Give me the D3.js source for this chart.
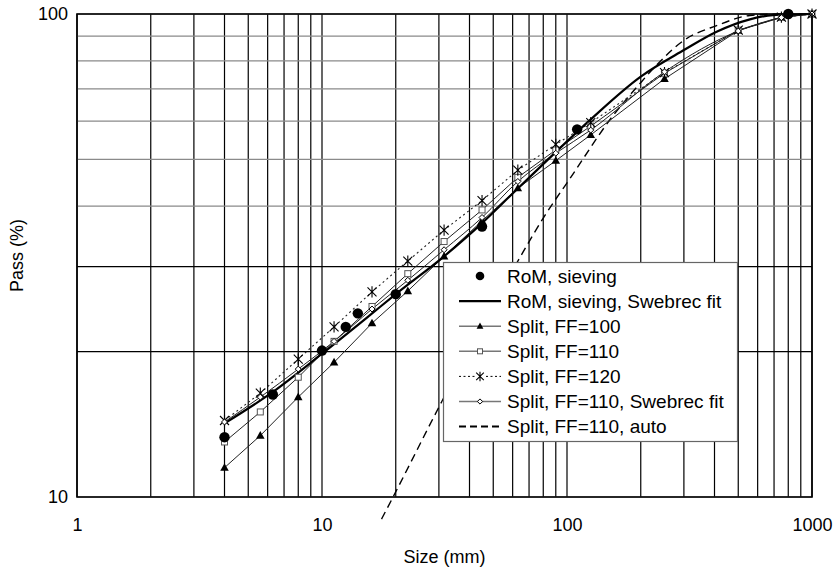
<!DOCTYPE html>
<html>
<head>
<meta charset="utf-8">
<script src="https://cdn.jsdelivr.net/npm/d3@7"></script>
<style>
  html, body { margin: 0; padding: 0; background: #fff; }
  svg { display: block; }
  text { font-family: "Liberation Sans", Arial, Helvetica, sans-serif; fill: #000; }
</style>
</head>
<body>
<svg id="chart" width="836" height="571"></svg>
<script>
// ---------------- data ----------------
const sieveSizes = [4, 5.6, 8, 11.2, 16, 22.4, 31.5, 45, 63, 90, 125, 250, 500, 750, 1000];
const splitFF100 = [11.5, 13.4, 16.1, 19.0, 22.9, 26.7, 31.5, 37.3, 43.6, 49.7, 56.2, 73.4, 92.4, 98.4, 100];
const splitFF110 = [13.0, 15.0, 17.7, 21.0, 24.8, 29.0, 33.8, 39.3, 45.9, 52.3, 58.6, 75.4, 92.6, 98.5, 100];
const splitFF120 = [14.4, 16.4, 19.3, 22.5, 26.6, 30.8, 35.7, 41.1, 47.5, 53.7, 59.6, 75.6, 92.6, 98.5, 100];
const splitFF110Fit = [14.3, 16.1, 18.4, 21.0, 24.5, 28.1, 32.5, 37.9, 45.0, 51.5, 57.5, 75.9, 92.2, 98.3, 100];

const romSizes = [4, 6.3, 10, 12.5, 14, 20, 45, 110, 800];
const romPass  = [13.3, 16.3, 20.1, 22.5, 24.0, 26.3, 36.3, 57.7, 100];

const romFitSizes = [4, 6.3, 10, 15.7, 20, 31.5, 45, 60, 78, 124, 200, 300, 408, 558, 693, 1000];
const romFitPass  = [14.2, 16.5, 19.8, 23.8, 26.3, 31.5, 36.9, 42.5, 48.3, 60.3, 74.2, 84.2, 91.9, 97.5, 99.5, 100];

const autoSizes = [17.5, 19.5, 30.8, 66.3, 80, 103, 153, 199, 232, 298, 408, 558, 750, 1000];
const autoPass  = [9.0, 10, 15.75, 32.2, 37.8, 45.7, 61.3, 71.9, 78.4, 88.0, 94.6, 99.3, 100, 100];

const xTickLabels = [1, 10, 100, 1000];
const yTickLabels = [10, 100];
const yDarkGrid = [20, 30];

const legendLabels = [
  "RoM, sieving",
  "RoM, sieving, Swebrec fit",
  "Split, FF=100",
  "Split, FF=110",
  "Split, FF=120",
  "Split, FF=110, Swebrec fit",
  "Split, FF=110, auto"
];

// ---------------- setup ----------------
const svg = d3.select("#chart");
const L = 77, R = 812, T = 14, B = 497;
const x = d3.scaleLog().domain([1, 1000]).range([L, R]);
const y = d3.scaleLog().domain([10, 100]).range([B, T]);

const zip = (xs, ys) => xs.map((v, i) => [v, ys[i]]);
const line = d3.line().x(d => x(d[0])).y(d => y(d[1]));
const smooth = d3.line().x(d => x(d[0])).y(d => y(d[1])).curve(d3.curveMonotoneX);

// ---------------- grid ----------------
const grid = svg.append("g");
grid.selectAll("line.v").data(x.ticks()).join("line")
  .attr("x1", d => x(d)).attr("x2", d => x(d))
  .attr("y1", T).attr("y2", B)
  .attr("stroke", "#000").attr("stroke-width", 1.2);
grid.selectAll("line.h").data(y.ticks()).join("line")
  .attr("x1", L).attr("x2", R)
  .attr("y1", d => y(d)).attr("y2", d => y(d))
  .attr("stroke", d => yDarkGrid.includes(d) ? "#000" : "#8a8a8a")
  .attr("stroke-width", 1.2);

// ---------------- series ----------------
const plot = svg.append("g");

// dashed auto
plot.append("path").datum(zip(autoSizes, autoPass))
  .attr("d", smooth).attr("fill", "none")
  .attr("stroke", "#000").attr("stroke-width", 1.4).attr("stroke-dasharray", "8,5");

// split FF=100
plot.append("path").datum(zip(sieveSizes, splitFF100))
  .attr("d", line).attr("fill", "none").attr("stroke", "#222").attr("stroke-width", 1);
// split FF=110
plot.append("path").datum(zip(sieveSizes, splitFF110))
  .attr("d", line).attr("fill", "none").attr("stroke", "#222").attr("stroke-width", 1);
// split FF=120 dotted
plot.append("path").datum(zip(sieveSizes, splitFF120))
  .attr("d", line).attr("fill", "none").attr("stroke", "#222").attr("stroke-width", 1.1)
  .attr("stroke-dasharray", "2,3");
// split FF=110 Swebrec fit
plot.append("path").datum(zip(sieveSizes, splitFF110Fit))
  .attr("d", smooth).attr("fill", "none").attr("stroke", "#222").attr("stroke-width", 1);
// RoM fit thick
plot.append("path").datum(zip(romFitSizes, romFitPass))
  .attr("d", smooth).attr("fill", "none").attr("stroke", "#000").attr("stroke-width", 2.2);

// marker helpers
function tri(g, s) {
  g.append("path").attr("d", `M0,${-s}L${s * 0.95},${s * 0.7}L${-s * 0.95},${s * 0.7}Z`).attr("fill", "#000");
}
function sq(g, s) {
  g.append("rect").attr("x", -s).attr("y", -s).attr("width", 2 * s).attr("height", 2 * s)
    .attr("fill", "#fff").attr("stroke", "#555").attr("stroke-width", 1);
}
function star(g, s) {
  g.append("path").attr("d", `M${-s},${-s}L${s},${s}M${-s},${s}L${s},${-s}M0,${-s * 1.25}L0,${s * 1.25}`)
    .attr("stroke", "#000").attr("stroke-width", 1.1).attr("fill", "none");
}
function dia(g, s) {
  g.append("path").attr("d", `M0,${-s}L${s},0L0,${s}L${-s},0Z`)
    .attr("fill", "#fff").attr("stroke", "#000").attr("stroke-width", 1);
}
function dot(g, r) {
  g.append("circle").attr("r", r).attr("fill", "#000");
}
function markers(data, fn, s) {
  plot.append("g").selectAll("g").data(data).join("g")
    .attr("transform", d => `translate(${x(d[0])},${y(d[1])})`)
    .each(function () { fn(d3.select(this), s); });
}
markers(zip(sieveSizes, splitFF100), tri, 4.5);
markers(zip(sieveSizes, splitFF110), sq, 3);
markers(zip(sieveSizes, splitFF120), star, 4.5);
markers(zip(sieveSizes, splitFF110Fit), dia, 3);
markers(zip(romSizes, romPass), dot, 5.2);

// ---------------- frame ----------------
svg.append("rect").attr("x", L).attr("y", T).attr("width", R - L).attr("height", B - T)
  .attr("fill", "none").attr("stroke", "#000").attr("stroke-width", 1.6);

// ---------------- axes ----------------
const fmt = d3.format("d");
const xAxis = svg.append("g").attr("transform", `translate(0,${B})`)
  .call(d3.axisBottom(x).tickValues(xTickLabels).tickFormat(fmt).tickSize(0).tickPadding(21));
const yAxis = svg.append("g").attr("transform", `translate(${L},0)`)
  .call(d3.axisLeft(y).tickValues(yTickLabels).tickFormat(fmt).tickSize(0).tickPadding(9));
[xAxis, yAxis].forEach(a => {
  a.select(".domain").remove();
  a.selectAll("text").attr("font-size", 18).attr("font-family", "Liberation Sans, Arial, sans-serif").attr("fill", "#000");
});

svg.append("text").attr("x", (L + R) / 2).attr("y", 563).attr("text-anchor", "middle")
  .attr("font-size", 18).text("Size (mm)");
svg.append("text").attr("transform", `translate(23,${(T + B) / 2}) rotate(-90)`)
  .attr("text-anchor", "middle").attr("font-size", 18).text("Pass (%)");

// ---------------- legend ----------------
const lg = svg.append("g");
lg.append("rect").attr("x", 443.5).attr("y", 262.5).attr("width", 294).attr("height", 179)
  .attr("fill", "#fff").attr("stroke", "#666").attr("stroke-width", 1.2);
const rowY = i => 276 + i * 25.1;
const lx1 = 459, lx2 = 501, mx = 480;
const legendDraw = [
  g => { dot(g, 4.3); },
  g => { g.append("line").attr("x1", lx1 - mx).attr("x2", lx2 - mx).attr("stroke", "#000").attr("stroke-width", 2.2); },
  g => { g.append("line").attr("x1", lx1 - mx).attr("x2", lx2 - mx).attr("stroke", "#777").attr("stroke-width", 1.6); tri(g, 3.6); },
  g => { g.append("line").attr("x1", lx1 - mx).attr("x2", lx2 - mx).attr("stroke", "#777").attr("stroke-width", 1.6); sq(g, 2.5); },
  g => { g.append("line").attr("x1", lx1 - mx).attr("x2", lx2 - mx).attr("stroke", "#000").attr("stroke-width", 1).attr("stroke-dasharray", "2,2.5"); g.append("rect").attr("x", -5).attr("y", -6).attr("width", 10).attr("height", 12).attr("fill", "#fff"); star(g, 3.8); },
  g => { g.append("line").attr("x1", lx1 - mx).attr("x2", lx2 - mx).attr("stroke", "#777").attr("stroke-width", 1.6); dia(g, 2.6); },
  g => { g.append("line").attr("x1", lx1 - mx).attr("x2", lx2 - mx).attr("stroke", "#000").attr("stroke-width", 2).attr("stroke-dasharray", "7,4"); }
];
legendLabels.forEach((lab, i) => {
  const g = lg.append("g").attr("transform", `translate(${mx},${rowY(i)})`);
  legendDraw[i](g);
  lg.append("text").attr("x", 507).attr("y", rowY(i)).attr("dy", "0.35em")
    .attr("font-size", 19).text(lab);
});
</script>
</body>
</html>
